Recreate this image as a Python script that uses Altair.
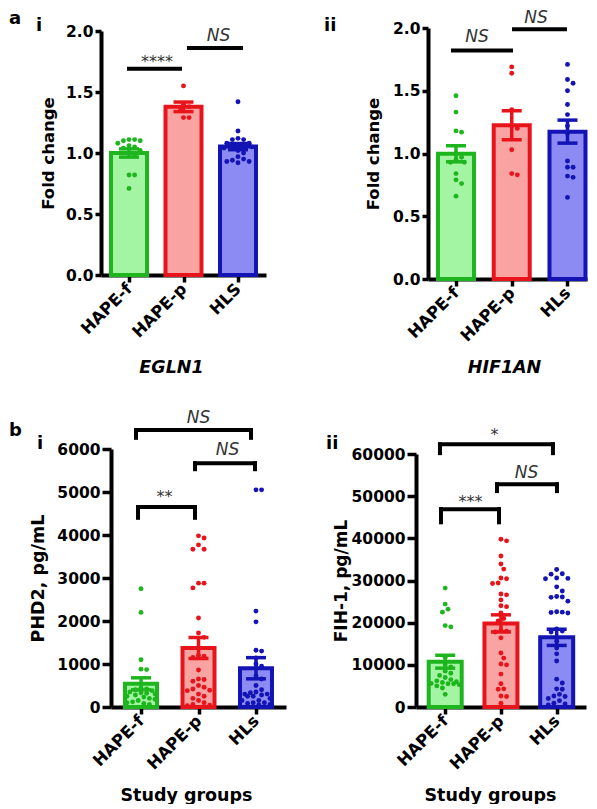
import altair as alt
import numpy as np
import pandas as pd

FONT = "DejaVu Sans"
GROUPS = ["HAPE-f", "HAPE-p", "HLs"]
LABELS_EGLN1 = ["HAPE-f", "HAPE-p", "HLS"]
LABELS = ["HAPE-f", "HAPE-p", "HLs"]
DARK = ["#1fb51f", "#e8141c", "#1414b4"]
LIGHT = ["#a3f5a3", "#f9a3a3", "#8b8bf3"]

# ---- a-i  EGLN1 fold change
egln1_f = [1.11, 1.10, 1.11, 1.10, 1.08, 1.06, 1.05, 1.04, 1.02, 1.00, 0.98, 0.82, 0.82, 0.71]
egln1_p = [1.55, 1.40, 1.38, 1.36, 1.29, 1.29]
egln1_h = [1.42, 1.18, 1.12, 1.11, 1.11, 1.08, 1.08, 1.07, 1.07, 1.06, 1.05, 1.04, 1.02,
           1.00, 0.97, 0.95, 0.94, 0.93, 0.92, 0.93]
# ---- a-ii HIF1AN fold change
hif_f = [1.46, 1.33, 1.18, 1.17, 1.00, 0.97, 0.95, 0.93, 0.93, 0.84, 0.79, 0.76, 0.66]
hif_p = [1.69, 1.64, 1.35, 1.20, 1.22, 1.03, 0.84, 0.83]
hif_h = [1.71, 1.59, 1.56, 1.50, 1.39, 1.31, 1.22, 1.16, 0.94, 0.89, 0.89, 0.82, 0.81, 0.65]
# ---- b-i PHD2 pg/mL
phd_f = [2750, 2200, 1100, 880, 870, 450, 420, 400, 380, 350, 330, 320, 300, 280, 250, 230,
         200, 180, 150, 120, 100, 80, 60]
phd_p = [3980, 3930, 3770, 3670, 3670, 2880, 2880, 2770, 2070, 1720, 1620, 1200, 1180, 1150,
         860, 650, 640, 600, 500, 460, 420, 390, 380, 300, 250, 200, 150, 100, 60, 30, 40]
phd_h = [5050, 5050, 2230, 1980, 1320, 1300, 1140, 1000, 950, 720, 650, 500, 400, 350, 330,
         300, 280, 250, 200, 150, 100, 80, 50, 300, 250, 150, 100, 60]
# ---- b-ii FIH-1 pg/mL
fih_f = [28200, 24400, 23200, 22500, 19300, 19000, 11800, 10000, 9500, 8500, 8000, 7500, 7000,
         6500, 6200, 6000, 5800, 5600, 5500, 5500, 5300, 5000, 4500, 3000]
fih_p = [39800, 39400, 35800, 33900, 32700, 30600, 30400, 29400, 29300, 26800, 26600, 25400,
         24000, 23800, 22300, 21000, 20400, 18200, 18000, 17800, 16400, 12800, 11600, 10200,
         10000, 7800, 5500, 4300, 4200, 2600, 2500, 900]
fih_h = [32600, 31600, 31500, 30600, 30500, 30400, 28500, 27500, 26200, 26100, 26000, 25100,
         22600, 22500, 22400, 22300, 18500, 18000, 17800, 15600, 14000, 12600, 10900, 6600,
         5700, 4300, 4200, 2600, 2500, 900, 700, 500, 1500, 2000, 3000]

# significance annotations: (x1, x2, y_top, y_leg) in data units; text (label, x, y_baseline)
a1_lines = [(0.0, 0.936, 1.69, None), (1.10, 2.055, 1.86, None)]
a1_texts = [("****", 0.513, 1.709), ("NS", 1.642, 1.918)]
a2_lines = [(-0.054, 0.987, 1.82, None), (1.041, 1.955, 1.99, None)]
a2_texts = [("NS", 0.377, 1.888), ("NS", 1.435, 2.040)]
b1_lines = [(-0.052, 0.939, 4650, 4400), (0.939, 1.983, 5670, 5530), (-0.087, 1.913, 6440, 6260)]
b1_texts = [("**", 0.408, 4756), ("NS", 1.504, 5860), ("NS", 0.999, 6605)]
b2_lines = [(-0.076, 0.965, 46900, 43800), (0.929, 2.005, 52800, 51200), (-0.094, 1.933, 62300, 60200)]
b2_texts = [("***", 0.454, 47430), ("NS", 1.458, 54300), ("*", 0.884, 63300)]


def swarm(values, ppy, ppx, dot=5.6, step=2.8, max_px=15.0):
    vals = np.asarray(values, float)
    order = np.argsort(-vals, kind="stable")
    cands = [0.0]
    k = 1
    while k * step <= max_px:
        cands += [k * step, -k * step]
        k += 1
    placed = []
    offs = np.zeros(len(vals))
    for i in order:
        y = vals[i] * ppy
        best, best_d, fallback = None, -1.0, 0.0
        for c in cands:
            d = min([np.hypot(c - px, y - py) for px, py in placed], default=1e9)
            if d >= dot:
                best = c
                break
            if d > best_d:
                best_d, fallback = d, c
        if best is None:
            best = fallback
        placed.append((best, y))
        offs[i] = best / ppx
    return offs


def panel(cfg):
    w, h = cfg["w"], cfg["h"]
    xdom, ymax = cfg["xdom"], cfg["ymax"]
    xr, yr = cfg["xr"], cfg["yr"]
    ppx = (xr[1] - xr[0]) / (xdom[1] - xdom[0])
    ppy = (yr[0] - yr[1]) / ymax
    rows, summ = [], []
    for gi, vals in enumerate(cfg["series"]):
        offs = swarm(vals, ppy, ppx, max_px=cfg["bar_half"] - 2)
        for v, o in zip(vals, offs):
            rows.append({"g": GROUPS[gi], "x": gi + o, "v": v})
        a = np.asarray(vals, float)
        m = a.mean()
        se = a.std(ddof=1) / np.sqrt(len(a))
        summ.append({"g": GROUPS[gi], "i": gi, "mean": m, "zero": 0.0,
                     "lo": m - se, "hi": m + se,
                     "bx1": gi - cfg["bar_half"] / ppx, "bx2": gi + cfg["bar_half"] / ppx,
                     "cx1": gi - 10 / ppx, "cx2": gi + 10 / ppx})
    pts = pd.DataFrame(rows)
    sm = pd.DataFrame(summ)

    xs = alt.Scale(domain=xdom, range=xr, nice=False, zero=False)
    ys = alt.Scale(domain=[0, ymax], range=yr, nice=False, zero=False)
    names = cfg["names"]
    expr = "[" + ",".join("'%s'" % n for n in names) + "][datum.value]"
    xaxis = alt.Axis(values=[0, 1, 2], labelExpr=expr, labelAngle=-45, labelAlign="right",
                     labelBaseline="middle", labelPadding=4, labelFontSize=16.5,
                     labelFlush=False, labelOverlap=False, labelBound=False,
                     tickSize=7, tickWidth=3.5, domainWidth=4, grid=False, offset=cfg["xoff"],
                     title=cfg["xtitle"], titleX=cfg["xtx"], titleY=cfg["xty"],
                     titleAlign="center", titleBaseline="alphabetic", titleAngle=0,
                     titleFontSize=17.5, titleFontStyle=cfg["xstyle"])
    yaxis = alt.Axis(values=cfg["yticks"], format=cfg["yfmt"], labelFontSize=15.5,
                     labelPadding=cfg["ylp"], labelFlush=False, labelOverlap=False,
                     tickSize=cfg["yts"], tickWidth=3.5, domainWidth=4, grid=False,
                     offset=cfg["yoff"],
                     title=cfg["ytitle"], titleX=cfg["ytx"], titleY=(yr[0] + yr[1]) / 2,
                     titleAngle=-90, titleAlign="center", titleBaseline="middle",
                     titleFontSize=cfg["ytfs"])
    X = lambda f: alt.X(f, scale=xs, axis=xaxis)
    Y = lambda f: alt.Y(f, scale=ys, axis=yaxis)

    fill = alt.Fill("g:N", scale=alt.Scale(domain=GROUPS, range=LIGHT), legend=None)
    stroke = alt.Stroke("g:N", scale=alt.Scale(domain=GROUPS, range=DARK), legend=None)
    color = alt.Color("g:N", scale=alt.Scale(domain=GROUPS, range=DARK), legend=None)

    bars = alt.Chart(sm).mark_rect(strokeWidth=4).encode(
        x=X("bx1:Q"), x2="bx2:Q", y=Y("mean:Q"), y2="zero:Q", fill=fill, stroke=stroke)
    dots = alt.Chart(pts).mark_circle(size=24, opacity=1).encode(
        x=X("x:Q"), y=Y("v:Q"), color=color)
    err = alt.Chart(sm).mark_rule(strokeWidth=3.5).encode(
        x=X("i:Q"), y=Y("lo:Q"), y2="hi:Q", color=color)
    caphi = alt.Chart(sm).mark_rule(strokeWidth=3.5).encode(
        x=X("cx1:Q"), x2="cx2:Q", y=Y("hi:Q"), color=color)
    caplo = alt.Chart(sm).mark_rule(strokeWidth=3.5).encode(
        x=X("cx1:Q"), x2="cx2:Q", y=Y("lo:Q"), color=color)

    layers = [bars, dots, err, caphi, caplo]

    hl = pd.DataFrame([{"x1": a, "x2": b, "y": t} for a, b, t, _ in cfg["lines"]])
    layers.append(alt.Chart(hl).mark_rule(strokeWidth=4, color="black", strokeCap="square").encode(
        x=X("x1:Q"), x2="x2:Q", y=Y("y:Q")))
    legs = [{"x": xx, "y1": t, "y2": l} for a, b, t, l in cfg["lines"] if l is not None for xx in (a, b)]
    if legs:
        layers.append(alt.Chart(pd.DataFrame(legs)).mark_rule(strokeWidth=4, color="black",
                                                              strokeCap="square").encode(
            x=X("x:Q"), y=Y("y1:Q"), y2="y2:Q"))
    ns = pd.DataFrame([{"t": t, "x": x, "y": y} for t, x, y in cfg["texts"] if t == "NS"])
    st = pd.DataFrame([{"t": t, "x": x, "y": y} for t, x, y in cfg["texts"] if t != "NS"])
    if len(ns):
        layers.append(alt.Chart(ns).mark_text(font=FONT, fontSize=17, fontStyle="italic",
                                              color="#333333", baseline="alphabetic",
                                              align="center").encode(
            x=X("x:Q"), y=Y("y:Q"), text="t:N"))
    if len(st):
        layers.append(alt.Chart(st).mark_text(font=FONT, fontSize=16, color="#333333",
                                              baseline="alphabetic", align="center").encode(
            x=X("x:Q"), y=Y("y:Q"), text="t:N"))

    one = pd.DataFrame({"k": [0]})
    for txt, lx, ly in cfg["letters"]:
        layers.append(alt.Chart(one).mark_text(text=txt, font=FONT, fontSize=18, fontWeight="bold",
                                               color="black", align="left",
                                               baseline="alphabetic").encode(
            x=alt.value(lx), y=alt.value(ly)))
    for ax, ay in cfg["anchors"]:
        layers.append(alt.Chart(one).mark_point(size=1, shape="square", filled=True,
                                                opacity=0).encode(
            x=alt.value(ax), y=alt.value(ay)))
    return alt.layer(*layers).properties(width=w, height=h)


A1 = panel(dict(w=165, h=251, xdom=[-0.514, 2.514], xr=[0, 165], ymax=2.0, yr=[247, 3],
                yticks=[0, 0.5, 1.0, 1.5, 2.0], yfmt=".1f", ylp=2, yts=6, yoff=0, xoff=-4,
                ytitle="Fold change", ytx=-53, ytfs=16.5,
                xtitle="EGLN1", xtx=70, xty=97, xstyle="italic", names=LABELS_EGLN1,
                series=[egln1_f, egln1_p, egln1_h], bar_half=18, lines=a1_lines, texts=a1_texts,
                letters=[("a", -92, -4), ("i", -65, 3)], anchors=[(-92, -19), (0, 352)]))
A2 = panel(dict(w=159, h=251, xdom=[-0.502, 2.350], xr=[0, 159], ymax=2.0, yr=[251, 0],
                yticks=[0, 0.5, 1.0, 1.5, 2.0], yfmt=".1f", ylp=2, yts=6, yoff=0, xoff=0,
                ytitle="Fold change", ytx=-55, ytfs=16.5,
                xtitle="HIF1AN", xtx=76, xty=93, xstyle="italic", names=LABELS,
                series=[hif_f, hif_p, hif_h], bar_half=18, lines=a2_lines, texts=a2_texts,
                letters=[("ii", -104, 3)], anchors=[]))
B1 = panel(dict(w=185, h=258, xdom=[-0.522, 2.522], xr=[10, 185], ymax=6000, yr=[258, 0],
                yticks=[0, 1000, 2000, 3000, 4000, 5000, 6000], yfmt="d", ylp=2, yts=9,
                yoff=-10, xoff=0, ytitle="PHD2, pg/mL", ytx=-73, ytfs=17.5,
                xtitle="Study groups", xtx=85, xty=93, xstyle="normal", names=LABELS,
                series=[phd_f, phd_p, phd_h], bar_half=16, lines=b1_lines, texts=b1_texts,
                letters=[("b", -92, -13), ("i", -64, 0)], anchors=[(-92, -41)]))
B2 = panel(dict(w=170, h=258, xdom=[-0.524, 2.526], xr=[0, 170], ymax=60000, yr=[258, 5],
                yticks=[0, 10000, 20000, 30000, 40000, 50000, 60000], yfmt="d", ylp=2, yts=9,
                yoff=0, xoff=0, ytitle="FIH-1, pg/mL", ytx=-75, ytfs=17,
                xtitle="Study groups", xtx=74, xty=93, xstyle="normal", names=LABELS,
                series=[fih_f, fih_p, fih_h], bar_half=16.5, lines=b2_lines, texts=b2_texts,
                letters=[("ii", -90, 0)], anchors=[]))

row1 = alt.hconcat(A1, A2, spacing=162, bounds="flush")
row2 = alt.hconcat(B1, B2, spacing=130, bounds="flush")
chart = alt.vconcat(row1, row2, spacing=26).properties(padding=0).configure_view(
    stroke=None).configure_axis(
    labelFont=FONT, labelFontWeight="bold", labelColor="black",
    titleFont=FONT, titleFontWeight="bold", titleColor="black",
    domainColor="black", tickColor="black")

chart.save("out.html", embed_options={"renderer": "svg", "actions": False})
